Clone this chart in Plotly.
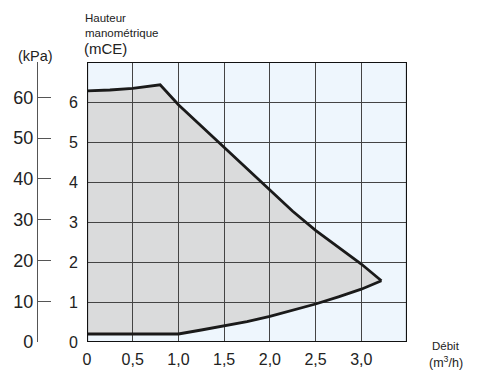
import plotly.graph_objects as go

# Pump operating envelope: flow (m3/h) vs head (mCE)
upper_flow = [0.0, 0.25, 0.5, 0.8, 1.0, 1.25, 1.5, 1.75, 2.0, 2.25, 2.5, 2.75, 3.0, 3.22]
upper_head = [6.28, 6.30, 6.34, 6.43, 5.93, 5.40, 4.86, 4.32, 3.79, 3.27, 2.79, 2.36, 1.95, 1.53]

lower_flow = [0.0, 0.5, 1.0, 1.25, 1.5, 1.75, 2.0, 2.25, 2.5, 2.75, 3.0, 3.22]
lower_head = [0.2, 0.2, 0.2, 0.3, 0.4, 0.51, 0.64, 0.79, 0.95, 1.13, 1.32, 1.53]

x_ticks = [0, 0.5, 1.0, 1.5, 2.0, 2.5, 3.0]
x_labels = ["0", "0,5", "1,0", "1,5", "2,0", "2,5", "3,0"]
mce_ticks = [0, 1, 2, 3, 4, 5, 6]
kpa_ticks = [0, 10, 20, 30, 40, 50, 60]

W, H = 477, 372
ML, MR, MT, MB = 0, 0, 62, 30
PLOT_H = H - MT - MB
KPA_PER_MCE = 9.80665


def px_x(px):
    return px / W


def px_y(py):
    return (H - MB - py) / PLOT_H


FONT = "Liberation Sans, Arial, Helvetica, sans-serif"
TEXT = "#222222"

fig = go.Figure()

# max and min curves (drawn above the grid)
for fx, fy in ((upper_flow, upper_head), (lower_flow, lower_head)):
    fig.add_trace(go.Scatter(
        x=fx, y=fy, mode="lines",
        line=dict(color="#1a1a1a", width=2.8),
        showlegend=False, hoverinfo="skip",
    ))

# invisible trace to activate the kPa axis
fig.add_trace(go.Scatter(x=[0], y=[0], yaxis="y2", mode="markers",
                         marker=dict(opacity=0), showlegend=False,
                         hoverinfo="skip"))

# shaded envelope, placed beneath the grid lines
env_x = upper_flow + lower_flow[::-1]
env_y = upper_head + lower_head[::-1]
env_path = "M " + " L ".join(f"{x},{y}" for x, y in zip(env_x, env_y)) + " Z"

fig.update_layout(
    width=W, height=H,
    margin=dict(l=ML, r=MR, t=MT, b=MB, autoexpand=False),
    paper_bgcolor="white",
    plot_bgcolor="#eef6fd",
    font=dict(family=FONT, color=TEXT),
    xaxis=dict(
        domain=[px_x(87), px_x(407)],
        range=[0, 3.5],
        tickvals=x_ticks, ticktext=x_labels,
        showgrid=True, gridcolor="#444444", gridwidth=1.3,
        zeroline=False, showline=False, automargin=False,
        ticks="outside", ticklen=3, tickcolor="rgba(0,0,0,0)",
        tickfont=dict(size=16, color=TEXT),
        fixedrange=True,
    ),
    yaxis=dict(
        range=[0, 7],
        tickvals=mce_ticks,
        showgrid=True, gridcolor="#444444", gridwidth=1.3,
        zeroline=False, showline=False, automargin=False,
        ticks="outside", ticklen=5, tickcolor="rgba(0,0,0,0)",
        tickfont=dict(size=16, color=TEXT),
        fixedrange=True,
    ),
    yaxis2=dict(
        overlaying="y", anchor="free", position=px_x(37), side="left",
        range=[0, 7 * KPA_PER_MCE],
        tickvals=kpa_ticks,
        showgrid=False, zeroline=False, automargin=False,
        showline=True, linecolor="#555555", linewidth=1.3,
        ticks="inside", ticklen=13, tickwidth=1.3, tickcolor="#555555",
        tickfont=dict(size=18, color=TEXT),
        fixedrange=True,
    ),
    shapes=[
        dict(type="path", xref="x", yref="y", path=env_path,
             fillcolor="#dadbdc", line=dict(width=0), layer="below"),
        dict(type="rect", xref="x", yref="y", x0=0, x1=3.5, y0=0, y1=7,
             line=dict(color="#111111", width=2.2),
             fillcolor="rgba(0,0,0,0)", layer="above"),
    ],
)

annotations = [
    ("Hauteur", 82.5, 18, 11.5, "left"),
    ("manométrique", 82.5, 33, 11.5, "left"),
    ("(mCE)", 82, 49, 15, "left"),
    ("(kPa)", 35, 56, 14.5, "center"),
    ("Débit", 446, 346, 11.5, "center"),
    ("(m<sup>3</sup>/h)", 446, 362, 12.5, "center"),
]
for text, ax, ay, size, align in annotations:
    fig.add_annotation(
        text=text, xref="paper", yref="paper",
        x=px_x(ax), y=px_y(ay),
        xanchor=align, yanchor="middle",
        showarrow=False, font=dict(size=size, color=TEXT, family=FONT),
    )

fig.write_html("out.html")
